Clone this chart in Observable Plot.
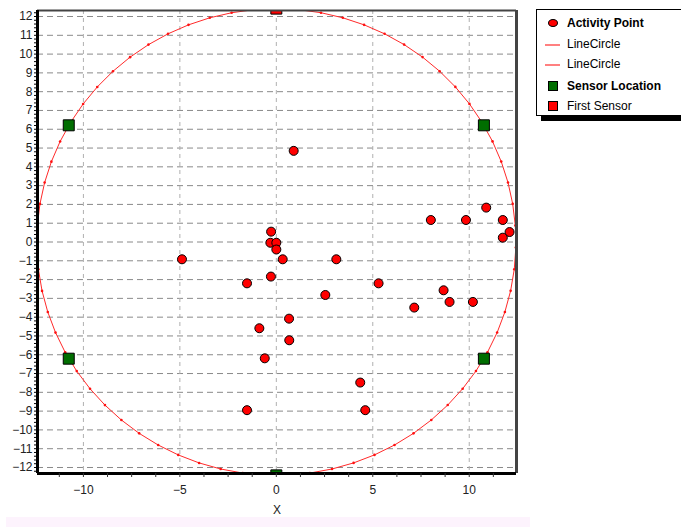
<!DOCTYPE html>
<html>
<head>
<meta charset="utf-8">
<script src="https://cdn.jsdelivr.net/npm/d3@7"></script>
<script src="https://cdn.jsdelivr.net/npm/@observablehq/plot@0.6"></script>
<style>
  body { margin:0; background:#fff; font-family:"Liberation Sans", Arial, sans-serif; }
  #wrap { position:relative; width:681px; height:527px; overflow:hidden; }
  #pink { position:absolute; left:6px; top:517px; width:524px; height:10px; background:#fdf3fd; }
  #legend { position:absolute; left:536px; top:9px; width:150px; height:105px; background:#fff;
            border:1px solid #000; box-shadow:5px 5px 0 #000; font-size:12px; color:#000; }
  .row { position:absolute; left:0; height:16px; line-height:16px; white-space:nowrap; }
  .row span.t { position:absolute; left:30px; top:0; }
  .mk { position:absolute; }
</style>
</head>
<body>
<div id="wrap">
  <div id="pink"></div>
  <div id="chart" style="position:absolute;left:0;top:0;"></div>
  <div id="legend"></div>
</div>
<script>
// ---- data ----
const activityX = [0.9, -0.27, -0.31, 0.0, 0.0, 0.33, -4.89, 3.11, -0.28, -1.52, 2.54, 0.66, -0.88, 0.67, -0.6, 4.35, -1.52, 4.61, 8.01, 9.83, 10.88, 11.74, 12.09, 11.74, 5.3, 8.67, 8.98, 10.19, 7.15];
const activityY = [4.85, 0.55, -0.04, -0.04, -0.4, -0.92, -0.92, -0.92, -1.84, -2.2, -2.82, -4.08, -4.59, -5.23, -6.19, -7.48, -8.95, -8.95, 1.17, 1.17, 1.83, 1.17, 0.53, 0.23, -2.2, -2.57, -3.19, -3.19, -3.49];
const sensorX = [-10.76, 10.76, -10.76, 10.76, 0];
const sensorY = [6.21, 6.21, -6.21, -6.21, -12.42];
const firstSensorX = [0];
const firstSensorY = [12.42];
const circleCenter = [0, 0];
const circleRadius = [12.42];
const circleSteps = [67];
const yTicks = d3.range(-12, 13);
const xTicks = [-10, -5, 0, 5, 10];
const xDomain = [-12.38, 12.45];
const yDomain = [-12.32, 12.32];
const legendLabels = ["Activity Point", "LineCircle", "LineCircle", "Sensor Location", "First Sensor"];

// ---- derived tables ----
const activity = activityX.map((x, i) => ({x, y: activityY[i]}));
const sensors = sensorX.map((x, i) => ({x, y: sensorY[i]}));
const first = firstSensorX.map((x, i) => ({x, y: firstSensorY[i]}));
const n = circleSteps[0], R = circleRadius[0];
const circle = d3.range(n + 1).map(k => {
  const a = (k / n) * 2 * Math.PI + 0.047;
  return {x: circleCenter[0] + R * Math.sin(a), y: circleCenter[1] - R * Math.cos(a)};
});

const chart = Plot.plot({
  width: 681, height: 527,
  marginLeft: 37, marginRight: 165, marginTop: 10, marginBottom: 54,
  style: {fontFamily: "'Liberation Sans', Arial, sans-serif", fontSize: "12px", background: "transparent", color: "#222"},
  x: {domain: xDomain, label: null},
  y: {domain: yDomain, label: null},
  marks: [
    Plot.gridY(yTicks, {stroke: "#8a8a8a", strokeOpacity: 1, strokeDasharray: "6,4"}),
    Plot.gridX(xTicks, {stroke: "#b0b0b0", strokeOpacity: 1, strokeDasharray: "4,4"}),
    Plot.line(circle, {x: "x", y: "y", stroke: "#ff2a2a", strokeWidth: 1, clip: true}),
    Plot.dot(circle, {x: "x", y: "y", r: 1.3, fill: "#ff1010", clip: true}),
    Plot.dot(activity, {x: "x", y: "y", r: 4.5, fill: "#ff0000", stroke: "#000", strokeWidth: 1}),
    Plot.dot(sensors, {x: "x", y: "y", symbol: "square", r: 6.2, fill: "#006e00", stroke: "#000", strokeWidth: 1, clip: true}),
    Plot.dot(first, {x: "x", y: "y", symbol: "square", r: 6.2, fill: "#ff0000", stroke: "#000", strokeWidth: 1, clip: true}),
    Plot.ruleY([yDomain[1]], {stroke: "#444", strokeWidth: 2}),
    Plot.ruleX([xDomain[1]], {stroke: "#444", strokeWidth: 3}),
    Plot.ruleX([xDomain[0]], {stroke: "#000", strokeWidth: 3}),
    Plot.ruleY([yDomain[0]], {stroke: "#000", strokeWidth: 3}),
    Plot.axisY(yTicks, {tickSize: 0, tickPadding: 5, fill: "#222", label: null}),
    Plot.axisY(d3.range(-12.2, 12.3, 0.2), {tickSize: 3, text: null, label: null, stroke: "#000"}),
    Plot.axisX(xTicks, {tickSize: 0, tickPadding: 12, fill: "#222", label: null}),
    Plot.axisX(d3.range(-11.25, 12.5, 1.25), {tickSize: 4, text: null, label: null, stroke: "#333"}),
    Plot.axisX([], {label: "X", labelAnchor: "center", labelOffset: 40, labelArrow: "none", tickSize: 0})
  ]
});
document.getElementById("chart").appendChild(chart);

// ---- legend ----
const lg = document.getElementById("legend");
const rowTops = [5, 26, 46, 68, 88];
const markers = [
  '<div class="mk" style="left:11px;top:4px;width:8px;height:6px;border-radius:50%;background:#ff0000;border:1px solid #000;"></div>',
  '<div class="mk" style="left:8px;top:8px;width:15px;height:1.5px;background:#ff8080;"></div>',
  '<div class="mk" style="left:8px;top:8px;width:15px;height:1.5px;background:#ff8080;"></div>',
  '<div class="mk" style="left:11px;top:3px;width:8px;height:8px;background:#006e00;border:1px solid #000;"></div>',
  '<div class="mk" style="left:11px;top:3px;width:8px;height:8px;background:#ff0000;border:1px solid #000;"></div>'
];
const weights = [700, 400, 400, 700, 400];
legendLabels.forEach((t, i) => {
  const d = document.createElement("div");
  d.className = "row";
  d.style.top = rowTops[i] + "px";
  d.innerHTML = markers[i] + '<span class="t" style="font-weight:' + weights[i] + '">' + t + '</span>';
  lg.appendChild(d);
});
</script>
</body>
</html>
